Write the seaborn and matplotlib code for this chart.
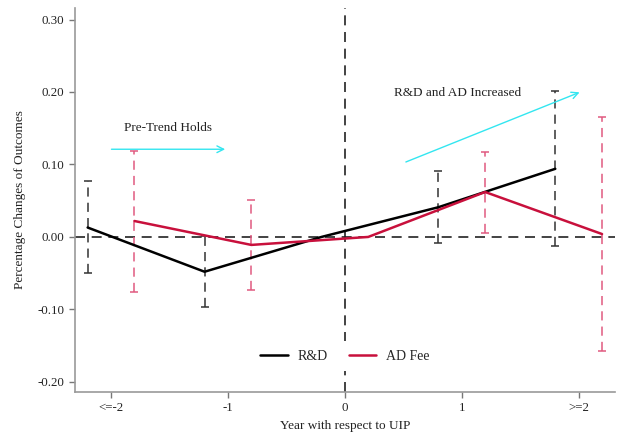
import numpy as np
import pandas as pd
import matplotlib
matplotlib.use("Agg")
import matplotlib.pyplot as plt
import seaborn as sns
from matplotlib.lines import Line2D

# ---- data ----
categories = ["<=-2", "-1", "0", "1", ">=2"]
cat_pos = [-2, -1, 0, 1, 2]
rd_coef = [0.013, -0.048, 0.0, 0.041, 0.094]
rd_low = [-0.050, -0.097, np.nan, -0.009, -0.013]
rd_high = [0.077, 0.001, np.nan, 0.091, 0.201]
ad_coef = [0.022, -0.011, 0.0, 0.062, 0.004]
ad_low = [-0.076, -0.073, np.nan, 0.005, -0.157]
ad_high = [0.119, 0.051, np.nan, 0.117, 0.165]
series_names = ["R&D", "AD Fee"]
yticks = [-0.20, -0.10, 0.00, 0.10, 0.20, 0.30]

sns.set_theme(style="white")
plt.rcParams["font.family"] = ["Liberation Serif", "DejaVu Serif"]

offsets = {"R&D": -0.2, "AD Fee": 0.2}
rows = []
for name, coef, lo, hi in [("R&D", rd_coef, rd_low, rd_high),
                           ("AD Fee", ad_coef, ad_low, ad_high)]:
    for p, c, l, h in zip(cat_pos, coef, lo, hi):
        rows.append({"series": name, "x": p + offsets[name], "coef": c, "low": l, "high": h})
df = pd.DataFrame(rows)

line_colors = {"R&D": "#000000", "AD Fee": "#c8103c"}
ci_colors = {"R&D": "#333333", "AD Fee": "#e05a80"}

fig = plt.figure(figsize=(6.18, 4.40), dpi=100)
ax = fig.add_axes([0.121, 0.109, 0.874, 0.873])

ax.axhline(0, color="#222222", lw=1.2, ls=(0, (6, 4)), zorder=1)
ax.axvline(0, color="#222222", lw=1.2, ls=(0, (6, 4)), zorder=1)

for name in series_names:
    sub = df[df.series == name].dropna()
    yerr = np.vstack([sub.coef - sub.low, sub.high - sub.coef])
    eb = ax.errorbar(sub.x, sub.coef, yerr=yerr, fmt="none", ecolor=ci_colors[name],
                     elinewidth=1.1, capsize=3, capthick=1.1, zorder=2)
    eb[2][0].set_linestyle((0, (6, 4)))

sns.lineplot(data=df, x="x", y="coef", hue="series", hue_order=series_names,
             palette=line_colors, linewidth=1.8, ax=ax, zorder=3, legend=False)

handles = [Line2D([], [], color=line_colors[n], lw=1.8) for n in series_names]
leg = ax.legend(handles, series_names, ncol=2, loc="center", bbox_to_anchor=(0.5, 0.093),
                frameon=True, fontsize=10, handlelength=2.0, handletextpad=0.7,
                columnspacing=1.5, borderpad=0.6)
leg.get_frame().set_facecolor("white")
leg.get_frame().set_edgecolor("none")
leg.get_frame().set_alpha(1.0)
leg.set_zorder(5)

# annotations
ax.annotate("", xy=(-1.0, 0.121), xytext=(-2.02, 0.121),
            arrowprops=dict(arrowstyle="->", color="#33e6f0", lw=1.0))
ax.text(-1.51, 0.150, "Pre-Trend Holds", ha="center", va="center", fontsize=9.5, color="#222222")
ax.annotate("", xy=(2.03, 0.201), xytext=(0.50, 0.102),
            arrowprops=dict(arrowstyle="->", color="#33e6f0", lw=1.0))
ax.text(0.96, 0.199, "R&D and AD Increased", ha="center", va="center", fontsize=9.5, color="#222222")

ax.set_xlim(-2.31, 2.31)
ax.set_ylim(-0.214, 0.316)
ax.set_xticks(cat_pos)
ax.set_xticklabels(categories)
ax.set_yticks(yticks)
ax.set_yticklabels([f"{v:.2f}" for v in yticks])
ax.set_xlabel("Year with respect to UIP", fontsize=9.5, color="#222222")
ax.set_ylabel("Percentage Changes of Outcomes", fontsize=9.5, color="#222222", labelpad=8)
ax.tick_params(axis="both", which="both", direction="out", length=4, width=1,
               color="#777777", labelsize=9.3, labelcolor="#222222", left=True, bottom=True)
for s in ["top", "right"]:
    ax.spines[s].set_visible(False)
for s in ["left", "bottom"]:
    ax.spines[s].set_color("#999999")
    ax.spines[s].set_linewidth(1.2)

fig.savefig("out.png", dpi=100)
